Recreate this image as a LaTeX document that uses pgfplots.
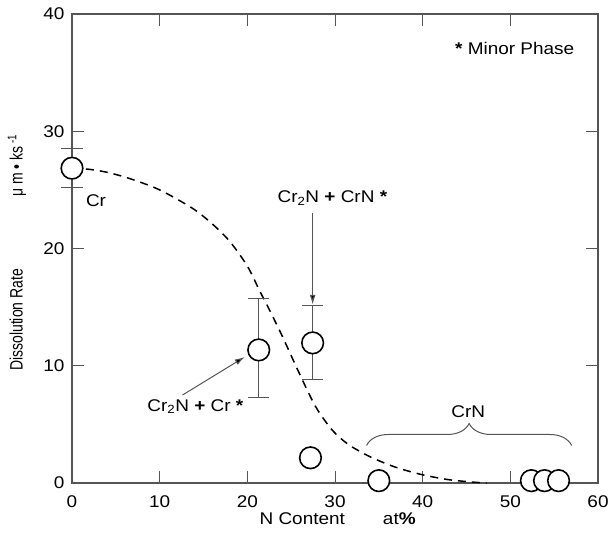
\documentclass[border=0pt]{standalone}
\usepackage{pgfplots}
\pgfplotsset{compat=1.18}
\usepackage{fontspec}
\setmainfont[FakeStretch=1.12]{Liberation Sans}
\newfontfamily\yfont[FakeStretch=0.78]{Liberation Sans}
\usetikzlibrary{arrows.meta,decorations.pathreplacing}
\definecolor{axgray}{RGB}{85,85,85}
\newcommand{\tf}{\fontsize{17}{20}\selectfont}
\begin{document}
\begin{tikzpicture}
\begin{axis}[
  name=ax,
  scale only axis, width=526bp, height=469bp,
  xmin=0, xmax=60, ymin=0, ymax=40,
  xtick={0,10,...,60}, ytick={0,10,...,40},
  tick align=inside, major tick length=12bp,
  tick style={draw=axgray, line width=1bp},
  axis line style={draw=axgray, line width=1.1bp},
  /pgf/number format/assume math mode=true,
  ticklabel style={font=\tf},
  yticklabel style={xshift=-4bp},
  xticklabel style={yshift=-9bp},
  xlabel={N Content\hspace{38bp}at\textbf{\%}},
  xlabel style={font=\tf, at={(axis description cs:0.505,0)}, anchor=center, yshift=-36bp},
  ylabel={Dissolution Rate\hspace{72bp}μ m • ks\textsuperscript{ -1}},
  ylabel style={font=\yfont\fontsize{18}{21}\selectfont, at={(axis description cs:-0.1046,0.491)}, anchor=center},
  clip=false,
]
% dashed fitted curve
\addplot[black, line width=1.5bp, dash pattern=on 8bp off 6bp, smooth, tension=0.5] coordinates {
 (0,26.85) (2,26.75) (4,26.5) (6,26.1) (8,25.6) (10,25.0) (12,24.2) (14,23.3)
 (16,22.1) (18,20.6) (20,18.5) (21.4,16.4) (22.5,14.8) (24,12.5) (25.9,9.4)
 (27.8,6.5) (29.7,4.5) (31.5,3.3) (33.7,2.35) (35.5,1.75) (37.3,1.25) (40,0.7)
 (43,0.28) (46,0.06) (47.3,0.0)
};
% error bars
\addplot[only marks, mark=none, forget plot,
  error bars/.cd, y dir=both, y explicit,
  error bar style={draw=axgray, line width=1bp},
  error mark options={rotate=90, mark size=10.5bp, draw=axgray, line width=1bp}]
  coordinates {
  (0,26.85) += (0,1.65) -= (0,1.65)
  (21.3,11.35) += (0,4.35) -= (0,4.05)
  (27.45,11.95) += (0,3.15) -= (0,3.1)
};
% circles
\addplot[only marks, mark=*, mark size=10.8bp,
  mark options={draw=black, fill=white, line width=1.6bp}] coordinates {
  (0,26.85) (21.3,11.35) (27.45,11.95) (27.2,2.15) (35.0,0.2)
  (52.4,0.2) (53.9,0.2) (55.5,0.2)
};
% annotations
\node[anchor=west, font=\tf] at (axis cs:1.2,24.1) {Cr};
\node[anchor=west, font=\tf] at (axis cs:8.2,6.5)
  {Cr\textsubscript{2}N \textbf{+} Cr \textbf{*}};
\draw[axgray, line width=1bp, -{Latex[length=10bp,width=6bp,fill=black]}]
  (axis cs:12.6,7.5) -- (axis cs:19.7,10.75);
\node[font=\tf] at (axis cs:29.7,24.3)
  {Cr\textsubscript{2}N \textbf{+} CrN \textbf{*}};
\draw[axgray, line width=1.2bp, -{Latex[length=10bp,width=6bp,fill=black]}]
  (axis cs:27.45,23.0) -- (axis cs:27.45,15.2);
\node[font=\tf] at (axis cs:50.5,37.1) {\textbf{*} Minor Phase};
\node[font=\tf] at (axis cs:45.2,6.1) {CrN};
\draw[axgray, line width=1bp, decorate, decoration={brace, amplitude=22bp}]
  (axis cs:33.6,3.2) -- (axis cs:57,3.2);
\end{axis}
\pgfresetboundingbox
\path[use as bounding box] ([xshift=-72bp,yshift=-52bp]ax.south west) rectangle ([xshift=14bp,yshift=14bp]ax.north east);
\end{tikzpicture}
\end{document}
